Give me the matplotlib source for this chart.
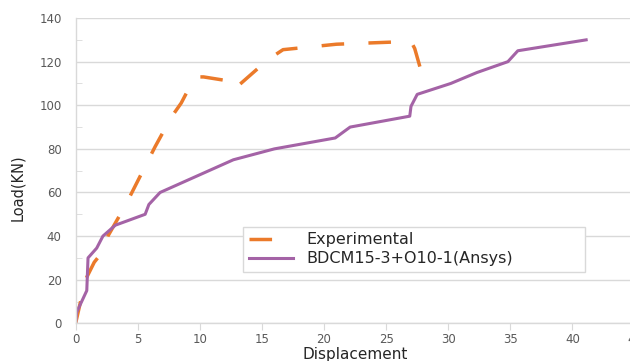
import numpy as np
from matplotlib import pyplot as plt
from matplotlib.ticker import MultipleLocator

plt.rcParams['font.family'] = 'DejaVu Sans'

# Experimental curve
exp_x = [0, 0.8, 1.5, 2.2, 2.6, 4.0, 6.4, 7.7, 8.5, 9.6, 10.3, 12.5, 12.8,
         15.5, 16.7, 21.0, 27.0, 27.3, 28.1]
exp_y = [0, 20, 28, 33, 40, 54, 81, 94.5, 101, 113, 113, 111, 107.5,
         121, 125.5, 128, 129.3, 126, 110]

# Ansys curve
ans_x = [0, 0.08, 0.9, 1.0, 1.7, 2.2, 3.2, 5.6, 5.9, 6.8, 12.7, 16.0, 20.9,
         22.1, 26.9, 27.0, 27.5, 30.2, 32.3, 34.8, 35.6, 41.1]
ans_y = [0, 5, 15, 30, 34.5, 40, 45, 50, 54.5, 60, 75, 80, 85,
         90, 95, 99.5, 105, 110, 115, 120, 125, 130]

labels = ['Experimental', 'BDCM15-3+O10-1(Ansys)']
orange = '#EB7A2A'
purple = '#A463A6'
grey = '#D9D9D9'
txt = '#595959'

fig = plt.figure(figsize=(6.3, 3.61), dpi=100)
ax = fig.add_axes([0.120, 0.1044, 1.0073 - 0.120, 0.950 - 0.1044])

ax.plot(exp_x, exp_y, color=orange, lw=2.5, dashes=(6.5, 7), label=labels[0])
ax.plot(ans_x, ans_y, color=purple, lw=2.2, label=labels[1])

ax.set_xlim(0, 45)
ax.set_ylim(0, 140)
ax.xaxis.set_major_locator(MultipleLocator(5))
ax.yaxis.set_major_locator(MultipleLocator(20))
ax.yaxis.set_minor_locator(MultipleLocator(10))
ax.grid(axis='y', which='major', color=grey, lw=1)
ax.set_axisbelow(True)

for s in ['top', 'right']:
    ax.spines[s].set_visible(False)
for s in ['left', 'bottom']:
    ax.spines[s].set_color(grey)
    ax.spines[s].set_linewidth(1)

ax.tick_params(axis='x', direction='out', length=5, color=grey, labelcolor=txt,
               labelsize=8.5, pad=2)
ax.tick_params(axis='y', which='major', length=0, labelcolor=txt, labelsize=8.5, pad=10)
ax.tick_params(axis='y', which='minor', direction='in', length=4, color=grey)

leg = ax.legend(loc='upper left', bbox_to_anchor=(0.386, 0.2363, 0.543, 0.1357),
                bbox_transform=fig.transFigure, mode='expand', borderaxespad=0,
                fontsize=11.5, handlelength=2.8, handletextpad=0.8,
                labelspacing=0.25, borderpad=0.35, fancybox=False,
                edgecolor=grey, framealpha=1)
for t in leg.get_texts():
    t.set_color('#262626')

fig.text(355 / 630, 1 - 355 / 361, 'Displacement', ha='center', va='center',
         fontsize=11, color='#262626')
fig.text(18 / 630, 1 - 188 / 361, 'Load(KN)', ha='center', va='center',
         rotation=90, fontsize=10.5, color='#262626')

plt.savefig('out.png', dpi=100)
